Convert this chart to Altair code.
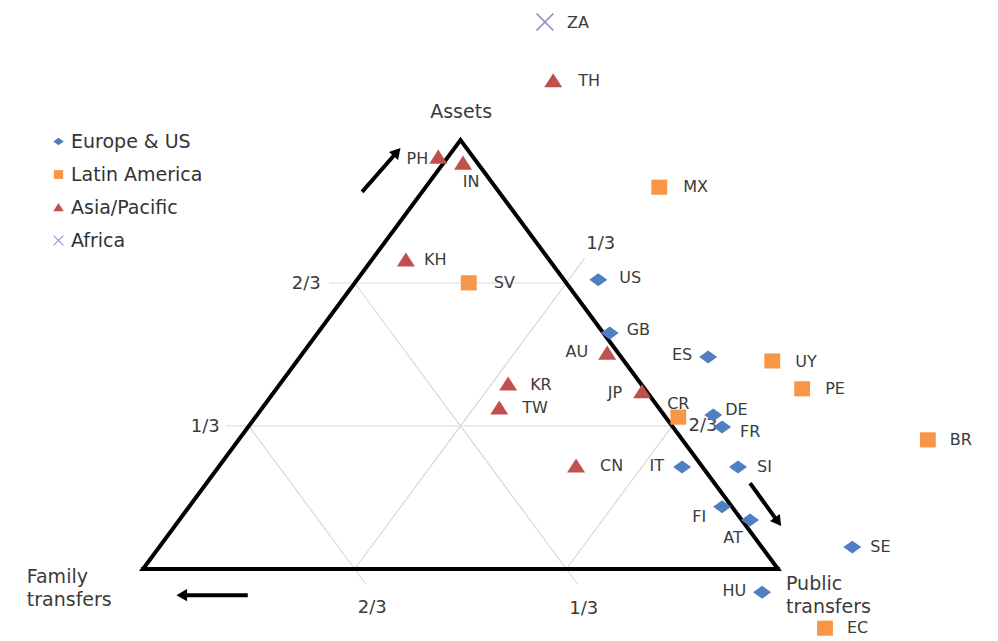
import math
import altair as alt
import pandas as pd

# ---------------- data (positions in triangle coordinates: base 0..1, apex height 1) ---------------
codes = ["ZA", "TH", "PH", "IN", "MX", "KH", "SV", "US", "GB", "AU", "ES", "UY", "PE", "KR",
         "TW", "JP", "CR", "DE", "FR", "BR", "CN", "IT", "SI", "FI", "AT", "SE", "HU", "EC"]
regions = ["Africa", "Asia/Pacific", "Asia/Pacific", "Asia/Pacific", "Latin America",
           "Asia/Pacific", "Latin America", "Europe & US", "Europe & US", "Asia/Pacific",
           "Europe & US", "Latin America", "Latin America", "Asia/Pacific", "Asia/Pacific",
           "Asia/Pacific", "Latin America", "Europe & US", "Europe & US", "Latin America",
           "Asia/Pacific", "Europe & US", "Europe & US", "Europe & US", "Europe & US",
           "Europe & US", "Europe & US", "Latin America"]
pos_x = [0.633, 0.646, 0.465, 0.504, 0.813, 0.414, 0.513, 0.717, 0.735, 0.731, 0.890, 0.991,
         1.038, 0.575, 0.561, 0.786, 0.843, 0.898, 0.912, 1.236, 0.682, 0.849, 0.937, 0.912,
         0.956, 1.117, 0.975, 1.074]
pos_y = [1.275, 1.138, 0.960, 0.946, 0.890, 0.720, 0.667, 0.674, 0.550, 0.503, 0.494, 0.485,
         0.420, 0.431, 0.375, 0.413, 0.354, 0.359, 0.331, 0.301, 0.240, 0.238, 0.238, 0.145,
         0.114, 0.051, -0.054, -0.138]

region_order = ["Europe & US", "Latin America", "Asia/Pacific", "Africa"]
region_colors = ["#4F7FC0", "#F79646", "#C0504D", "#8B86C6"]

corner_names = ["Assets", "Family\ntransfers", "Public\ntransfers"]
tick_labels = ["1/3", "2/3"]

# ---------------- layout helpers ----------------
W, H = 982, 624
SX, SY = 635.0, 429.0                 # pixels per unit
X_MIN = -(143 - 8) / SX
X_MAX = X_MIN + W / SX
Y_MAX = (569 - 8) / SY
Y_MIN = Y_MAX - H / SY

xs = alt.Scale(domain=[X_MIN, X_MAX], nice=False, zero=False)
ys = alt.Scale(domain=[Y_MIN, Y_MAX], nice=False, zero=False)
FONT = "DejaVu Sans"
TXT = "#3b3b3b"

# label placement in pixels (dx, dy, align)
place = {
    "ZA": (22, 1, "left"), "TH": (25, 0, "left"), "PH": (-10, 2, "right"),
    "IN": (8, 19, "center"), "MX": (24, 0, "left"), "KH": (18, 0, "left"),
    "SV": (25, 0, "left"), "US": (21, -2, "left"), "GB": (17, -3, "left"),
    "AU": (-19, -1, "right"), "ES": (-16, -2, "right"), "UY": (23, 1, "left"),
    "PE": (23, 0, "left"), "KR": (22, 1, "left"), "TW": (23, 0, "left"),
    "JP": (-20, 1, "right"), "CR": (0, -13, "center"), "DE": (12, -5, "left"),
    "FR": (18, 5, "left"), "BR": (22, 0, "left"), "CN": (24, 0, "left"),
    "IT": (-18, -1, "right"), "SI": (19, 0, "left"), "FI": (-16, 10, "right"),
    "AT": (-17, 18, "center"), "SE": (18, 0, "left"), "HU": (-16, -1, "right"),
    "EC": (22, 0, "left"),
}

pts = pd.DataFrame({"code": codes, "region": regions, "x": pos_x, "y": pos_y})
pts["lx"] = [x + place[c][0] / SX for x, c in zip(pts["x"], pts["code"])]
pts["ly"] = [y - place[c][1] / SY for y, c in zip(pts["y"], pts["code"])]
pts["al"] = [place[c][2] for c in pts["code"]]

# ---------------- triangle & grid ----------------
tri = pd.DataFrame({"x": [0, 1, 0.5, 0, 1], "y": [0, 0, 1, 0, 0], "o": [0, 1, 2, 3, 4]})
outline = alt.Chart(tri).mark_line(color="black", strokeWidth=4, strokeJoin="miter",
                                   strokeCap="square").encode(
    x=alt.X("x:Q", scale=xs, axis=None), y=alt.Y("y:Q", scale=ys, axis=None), order="o:Q")

t1, t2 = 1 / 3, 2 / 3
segs = [
    # assets lines (horizontal)
    (t2 / 2 - 0.04, t2, 1 - t2 / 2, t2),
    (t1 / 2 - 0.036, t1, 1 - t1 / 2, t1),
    # family lines (parallel to right side)
    (t1 / 2, t1, t1 + 0.0175, -0.035),
    (t2 / 2, t2, t2 + 0.0175, -0.035),
    # public lines (parallel to left side)
    (t1, 0, t2 + 0.029, t2 + 0.058),
    (t2, 0, 1 - t1 / 2 + 0.02, t1 + 0.04),
]
grid_df = pd.DataFrame(segs, columns=["x", "y", "x2", "y2"])
grid = alt.Chart(grid_df).mark_rule(color="#D9D9D9", strokeWidth=1.2).encode(
    x=alt.X("x:Q", scale=xs, axis=None), y=alt.Y("y:Q", scale=ys, axis=None),
    x2="x2:Q", y2="y2:Q")

tick_df = pd.DataFrame({
    "t": [tick_labels[1], tick_labels[0], tick_labels[1], tick_labels[0], tick_labels[0], tick_labels[1]],
    "x": [0.257, 0.098, 0.361, 0.694, 0.721, 0.882],
    "y": [0.664, 0.331, -0.091, -0.093, 0.758, 0.333],
})
ticks = alt.Chart(tick_df).mark_text(font=FONT, fontSize=18, color=TXT, baseline="middle",
                                     align="center").encode(
    x=alt.X("x:Q", scale=xs, axis=None), y=alt.Y("y:Q", scale=ys, axis=None), text="t:N")

corner_df = pd.DataFrame({"t": corner_names, "x": [0.501, -0.183, 1.0126],
                          "y": [1.065, -0.0186, -0.035],
                          "a": ["center", "left", "left"]})
corners = alt.layer(*[
    alt.Chart(corner_df[corner_df["a"] == a]).mark_text(
        font=FONT, fontSize=19, color=TXT, baseline="middle", align=a,
        lineBreak="\n", lineHeight=23).encode(
        x=alt.X("x:Q", scale=xs, axis=None), y=alt.Y("y:Q", scale=ys, axis=None), text="t:N")
    for a in ["center", "left"]
])

# ---------------- arrows ----------------
arr = pd.DataFrame({"x": [0.345, 0.956, 0.165], "y": [0.879, 0.200, -0.061],
                    "x2": [0.400, 1.000, 0.061], "y2": [0.972, 0.110, -0.061]})
arr["ang"] = [(math.degrees(math.atan2((b - a) * SX, (d - c) * SY)) % 360)
              for a, b, c, d in zip(arr["x"], arr["x2"], arr["y"], arr["y2"])]
shafts = alt.Chart(arr).mark_rule(color="black", strokeWidth=4).encode(
    x=alt.X("x:Q", scale=xs, axis=None), y=alt.Y("y:Q", scale=ys, axis=None),
    x2="x2:Q", y2="y2:Q")
heads = alt.Chart(arr).mark_point(shape="triangle-up", filled=True, color="black", size=150,
                                  opacity=1).encode(
    x=alt.X("x2:Q", scale=xs, axis=None), y=alt.Y("y2:Q", scale=ys, axis=None),
    angle=alt.Angle("ang:Q", scale=None))

# ---------------- markers ----------------
shape_range = [
    "M-1,0L0,-0.72L1,0L0,0.72Z",
    "M-0.88,-0.84L0.88,-0.84L0.88,0.84L-0.88,0.84Z",
    "M0,-0.85L1,0.72L-1,0.72Z",
    "M-0.88,-1.0L1.0,0.88L0.88,1.0L-1.0,-0.88Z M-0.88,1.0L-1.0,0.88L0.88,-1.0L1.0,-0.88Z",
]
leg = alt.Legend(title=None, orient="none", legendX=41, legendY=124, labelFont=FONT,
                 labelFontSize=19, labelColor="#333333", symbolSize=110, rowPadding=13,
                 labelOffset=3, padding=0, symbolStrokeWidth=0)
markers = alt.Chart(pts).mark_point(filled=True, opacity=1, size=324, strokeWidth=0).encode(
    x=alt.X("x:Q", scale=xs, axis=None), y=alt.Y("y:Q", scale=ys, axis=None),
    color=alt.Color("region:N", scale=alt.Scale(domain=region_order, range=region_colors), legend=leg),
    shape=alt.Shape("region:N", scale=alt.Scale(domain=region_order, range=shape_range), legend=leg),
)

labels = alt.layer(*[
    alt.Chart(pts[pts["al"] == a]).mark_text(font=FONT, fontSize=16, color=TXT,
                                             baseline="middle", align=a).encode(
        x=alt.X("lx:Q", scale=xs, axis=None), y=alt.Y("ly:Q", scale=ys, axis=None), text="code:N")
    for a in ["left", "right", "center"]
])

chart = alt.layer(grid, outline, ticks, corners, shafts, heads, markers, labels).properties(
    width=W, height=H, padding=0, background="white"
).configure_view(stroke=None)

chart.save("out.html", embed_options={"renderer": "svg", "actions": False})
